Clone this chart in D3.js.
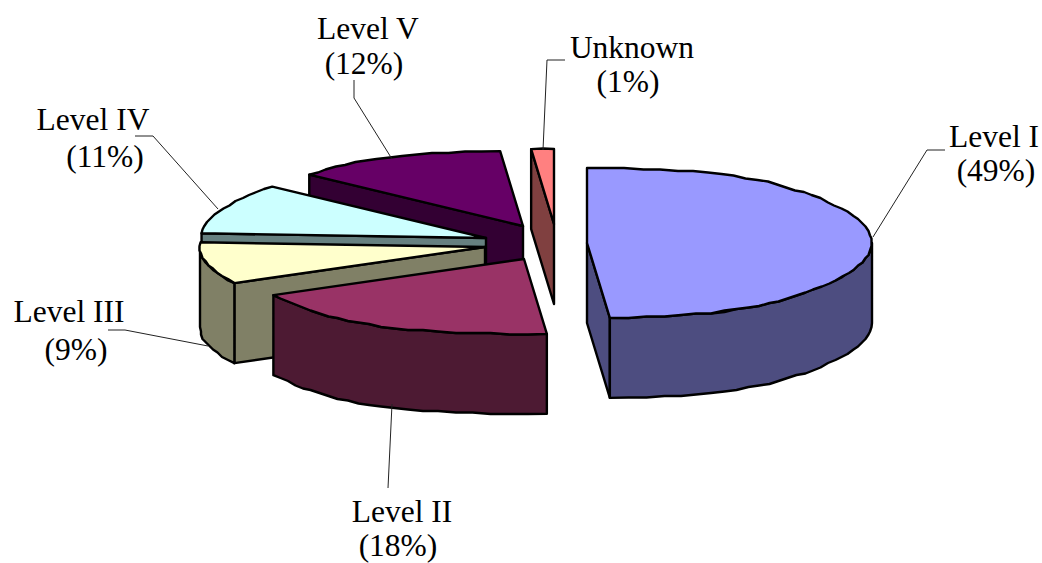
<!DOCTYPE html>
<html>
<head>
<meta charset="utf-8">
<script src="https://cdnjs.cloudflare.com/ajax/libs/d3/7.8.5/d3.min.js"></script>
<style>
  html, body { margin: 0; padding: 0; background: #fff; overflow: hidden; }
  svg { display: block; }
  text { font-family: "Liberation Serif", serif; font-size: 31.5px; fill: #000; }
</style>
</head>
<body>
<svg id="chart" width="1042" height="563"></svg>
<script>
// Education level shares, clockwise from twelve o'clock
const levels = ["Level I", "Level II", "Level III", "Level IV", "Level V", "Unknown"];
const shares = [49, 18, 9, 11, 12, 1];

// Face and wall fills per slice
const topColors  = ["#9999ff", "#993366", "#ffffcc", "#ccffff", "#660066", "#ff8080"];
const wallColors = ["#4d4d80", "#4d1a33", "#808066", "#668080", "#330033", "#804040"];

// Where each exploded slice has its tip
const tipX = [587, 524, 485, 486, 523, 554];
const tipY = [243, 259, 247, 238, 226, 224];

// Callout text anchors and leader lines
const nameX = [994, 402, 69, 93, 368, 632];
const nameY = [147, 522, 322, 130, 39, 58];
const pctX  = [996, 398, 76, 105, 364, 628];
const pctY  = [181, 556, 360, 167, 74, 92];
const leaders = [
  [[873, 237], [927, 150], [945, 150]],
  [[392, 404], [388, 488]],
  [[108, 330], [125, 330], [208, 346]],
  [[135, 136], [153, 136], [218, 209]],
  [[354, 80], [354, 98], [392, 159]],
  [[565, 60], [547, 60], [543, 150]]
];

// Tilted disc projection
const radiusX = 285, radiusY = 75, depth = 80;
const flare = 0.28;    // front and back of the disc spread slightly wider
const gridStep = 1.5;  // coarse device grid of the drawn outlines
const snap = v => Math.round(v / gridStep) * gridStep;

const svg = d3.select("#chart");
const arcs = d3.pie().sort(null).value(d => d)(shares);

const rimX = d3.scaleLinear().domain([-1, 1]).range([-radiusX, radiusX]);
const rimY = d3.scaleLinear().domain([-1, 1]).range([-radiusY, radiusY]);

// Point on the rim of slice i at angle a, lowered by z
function rim(i, a, z = 0) {
  const s = Math.sin(a), c = Math.cos(a);
  return [
    tipX[i] + rimX(s) * (1 + flare * Math.pow(c, 6)),
    tipY[i] + rimY(-c) + z
  ];
}

// Samples a rim arc at a coarse angular step, snapped to the device grid
function rimPoints(i, a0, a1, z = 0) {
  const n = Math.max(1, Math.ceil(Math.abs(a1 - a0) / (3 * Math.PI / 180)));
  return d3.range(n + 1).map(k => {
    const p = rim(i, a0 + (a1 - a0) * k / n, z);
    return (k === 0 || k === n) ? p : [snap(p[0]), snap(p[1])];
  });
}

const line = d3.line();
const closed = pts => line(pts) + "Z";

function face(fill, pts) {
  svg.append("path")
    .attr("d", closed(pts))
    .attr("fill", fill)
    .attr("stroke", "#000")
    .attr("stroke-width", 2.4)
    .attr("stroke-linejoin", "round");
}

// Slices are painted back to front so nearer ones cover farther ones
d3.range(arcs.length).reverse().forEach(i => {
  const { startAngle: a0, endAngle: a1 } = arcs[i];
  const tip = [tipX[i], tipY[i]];
  const tipLow = [tipX[i], tipY[i] + depth];

  // Cut faces that turn towards the viewer
  if (Math.sin(a0) < 0) {
    face(wallColors[i], [tip, rim(i, a0), rim(i, a0, depth), tipLow]);
  }
  if (Math.sin(a1) > 0 && a1 < 2 * Math.PI - 1e-6) {
    face(wallColors[i], [tip, rim(i, a1), rim(i, a1, depth), tipLow]);
  }

  // Curved outer wall, limited to the near half of the disc
  const w0 = Math.max(a0, Math.PI / 2), w1 = Math.min(a1, 3 * Math.PI / 2);
  if (w1 > w0) {
    face(wallColors[i], [...rimPoints(i, w0, w1), ...rimPoints(i, w1, w0, depth)]);
  }

  // Top face
  face(topColors[i], [tip, ...rimPoints(i, a0, a1)]);
});

// Callouts
leaders.forEach(pts => {
  svg.append("path")
    .attr("d", line(pts))
    .attr("fill", "none")
    .attr("stroke", "#222")
    .attr("stroke-width", 1);
});

levels.forEach((name, i) => {
  svg.append("text").attr("x", nameX[i]).attr("y", nameY[i])
    .attr("text-anchor", "middle").text(name);
  svg.append("text").attr("x", pctX[i]).attr("y", pctY[i])
    .attr("text-anchor", "middle").text(`(${shares[i]}%)`);
});
</script>
</body>
</html>
